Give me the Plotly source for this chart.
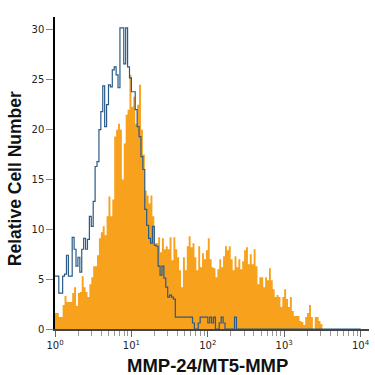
import numpy as np
import plotly.graph_objects as go

# Histogram channel width (log10 units); bins start at 10^0
BIN_LOG_WIDTH = 0.025

# Isotype control (blue outline), one value per channel, 10^0 .. 10^4
blue_counts = [
    5.3, 5.3, 3.6, 3.6, 5.3, 5.5, 7.4, 5.3, 5.3, 9.2,
    8.0, 6.3, 7.2, 5.7, 8.0, 9.1, 8.0, 9.0, 11.3, 10.3,
    12.8, 16.3, 16.8, 20.0, 21.8, 24.4, 20.3, 22.5, 24.5, 24.3,
    26.0, 26.3, 25.5, 24.2, 30.2, 30.2, 26.6, 30.2, 26.3, 25.2,
    23.8, 23.8, 22.0, 20.3, 19.3, 17.3, 16.0, 12.0, 10.4, 9.1,
    8.6, 10.3, 8.4, 8.3, 6.3, 5.4, 6.3, 5.1, 4.2, 3.2,
    3.4, 3.2, 3.0, 1.2, 1.2, 1.2, 1.2, 1.2, 1.2, 1.2,
    1.2, 1.2, 0.6, 0, 0, 0.6, 1.2, 1.2, 1.2, 1.2,
    0.6, 1.2, 0.6, 1.2, 0, 0, 0.6, 1.2, 0.6, 0,
    0, 0, 0, 0, 1.2, 0,
] + [0] * 64

# MMP-24/MT5-MMP stained (orange filled)
orange_counts = [
    1.6, 1.6, 1.2, 1.2, 2.4, 3.3, 2.7, 2.7, 2.7, 3.6,
    4.2, 2.3, 3.6, 3.7, 5.3, 4.2, 3.7, 3.2, 4.5, 5.2,
    6.3, 6.3, 7.4, 9.1, 9.7, 10.3, 9.4, 11.3, 13.3, 11.3,
    13.0, 19.3, 20.0, 20.6, 20.0, 15.0, 18.6, 21.5, 22.0, 25.5,
    22.3, 23.3, 20.6, 22.5, 24.5, 20.0, 17.5, 13.9, 13.4, 12.6,
    13.4, 11.3, 8.6, 8.6, 9.2, 7.7, 9.1, 8.0, 8.3, 8.0,
    9.2, 6.9, 9.2, 8.0, 7.2, 5.9, 4.2, 7.2, 5.9, 8.3,
    9.3, 8.2, 8.6, 7.2, 5.9, 8.3, 6.2, 7.6, 7.0, 7.9,
    9.1, 7.0, 6.2, 6.1, 5.2, 6.0, 7.0, 6.2, 7.3, 8.3,
    7.9, 8.3, 7.0, 5.9, 7.3, 6.2, 7.0, 6.0, 6.8, 7.9,
    8.2, 6.5, 7.5, 6.5, 8.0, 6.3, 4.5, 5.2, 5.2, 4.2,
    5.2, 4.9, 6.1, 4.9, 4.0, 3.2, 3.4, 3.2, 2.2, 3.2,
    4.0, 3.0, 2.2, 3.2, 1.8, 1.3, 1.3, 1.3, 0.8, 0.7,
    0.4, 1.2, 1.6, 2.4, 1.2, 0, 1.2, 1.2, 0.8, 0.5,
]

x_tick_vals = [1, 10, 100, 1000, 10000]
x_tick_text = ["10<sup>0</sup>", "10<sup>1</sup>", "10<sup>2</sup>", "10<sup>3</sup>", "10<sup>4</sup>"]
y_tick_vals = [0, 5, 10, 15, 20, 25, 30]
x_title = "MMP-24/MT5-MMP"
y_title = "Relative Cell Number"

ORANGE = "#f8a11d"
BLUE = "#2a5b88"


def step_xy(counts):
    edges = 10 ** (np.arange(len(counts) + 1) * BIN_LOG_WIDTH)
    xs = list(edges[:-1]) + [edges[-1]]
    ys = list(counts) + [counts[-1]]
    return xs, ys


xo, yo = step_xy(orange_counts)
xb, yb = step_xy(blue_counts)

minor_vals = [m * 10 ** d for d in range(4) for m in range(2, 10)]

fig = go.Figure()
fig.add_trace(go.Scatter(
    x=xo, y=yo, mode="lines",
    line=dict(shape="hv", width=0, color=ORANGE),
    fill="tozeroy", fillcolor=ORANGE, hoverinfo="skip", showlegend=False,
))
fig.add_trace(go.Scatter(
    x=xb, y=yb, mode="lines",
    line=dict(shape="hv", width=1.2, color=BLUE),
    hoverinfo="skip", showlegend=False,
))

tick_font = dict(family="DejaVu Sans", size=10, color="#222")

fig.update_layout(
    width=375, height=375,
    margin=dict(l=55, r=6, t=17, b=46),
    paper_bgcolor="white", plot_bgcolor="white",
    xaxis=dict(
        type="log", range=[0, 4.11],
        showline=True, linecolor="#444", linewidth=1.5,
        ticks="outside", ticklen=6, tickcolor="#666", tickwidth=1,
        tickvals=x_tick_vals, ticktext=x_tick_text, tickfont=tick_font,
        showgrid=False, zeroline=False,
        minor=dict(tickvals=minor_vals, ticks="outside", ticklen=5,
                   tickcolor="#999", tickwidth=1, showgrid=False),
    ),
    yaxis=dict(
        range=[0, 31.3],
        showline=True, linecolor="#000", linewidth=1.5,
        ticks="outside", ticklen=7, tickcolor="#888", tickwidth=1,
        tickvals=y_tick_vals, tickfont=tick_font,
        showgrid=False, zeroline=False,
    ),
    annotations=[
        dict(text=f"<b>{x_title}</b>", xref="x", yref="paper", x=2, y=0,
             yshift=-36, xanchor="center", yanchor="middle", showarrow=False,
             font=dict(family="Liberation Sans", size=18.5, color="#111")),
        dict(text=f"<b>{y_title}</b>", xref="paper", yref="paper", x=0, y=0.48,
             xshift=-40, xanchor="center", yanchor="middle", showarrow=False,
             textangle=-90,
             font=dict(family="Liberation Sans", size=17.5, color="#111")),
    ],
)

fig.write_html("out.html")
